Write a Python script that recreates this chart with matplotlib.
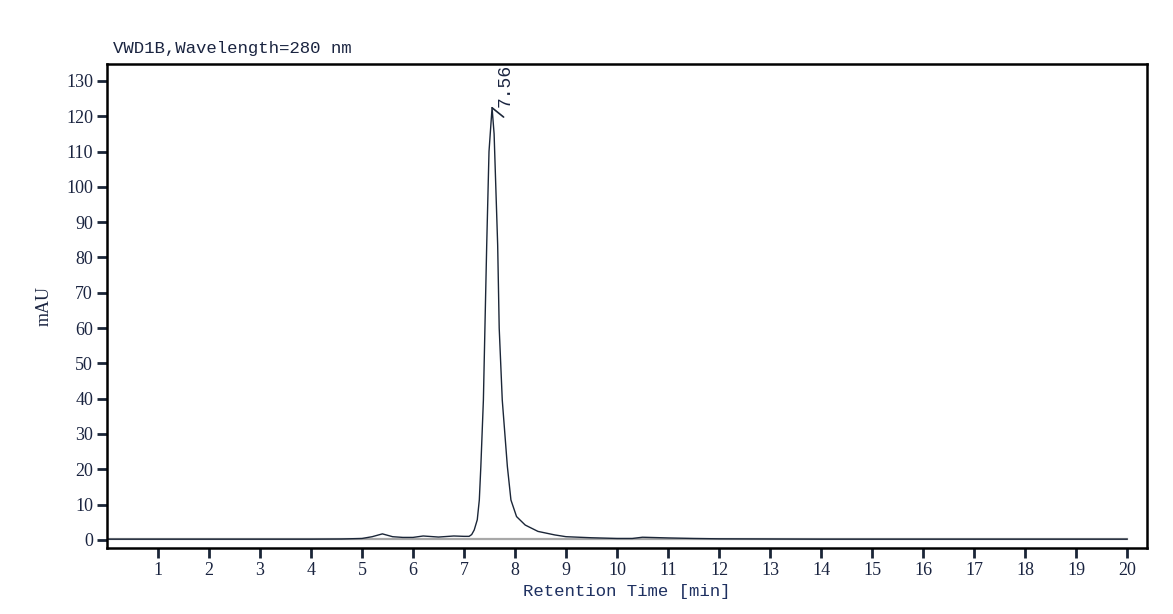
import matplotlib
matplotlib.use("Agg")
import matplotlib.pyplot as plt
import numpy as np

# chromatogram trace (min, mAU)
rt_min = [0.0, 1.0, 2.0, 3.0, 4.0, 4.6, 5.0, 5.2, 5.4, 5.6, 5.8, 6.0, 6.2, 6.5,
          6.8, 7.0, 7.1, 7.15, 7.2, 7.26, 7.30, 7.33, 7.38, 7.41, 7.445, 7.49,
          7.55, 7.59, 7.66, 7.69, 7.75, 7.85, 7.92, 8.03, 8.2, 8.45, 8.78, 9.0,
          9.5, 10.0, 10.3, 10.5, 11.0, 11.5, 12.0, 13.0, 14.0, 15.0, 16.0, 17.0,
          18.0, 19.0, 20.0]
signal_mau = [0.2, 0.2, 0.2, 0.2, 0.2, 0.25, 0.4, 0.9, 1.7, 0.9, 0.7, 0.7, 1.1, 0.8,
              1.1, 1.0, 1.0, 1.5, 2.8, 5.7, 11.3, 20.8, 39.6, 60.0, 83.5, 110.0,
              122.4, 115.0, 83.5, 60.0, 39.6, 20.8, 11.3, 6.6, 4.2, 2.4, 1.4, 0.9,
              0.6, 0.4, 0.4, 0.75, 0.55, 0.4, 0.3, 0.25, 0.2, 0.2, 0.2, 0.2,
              0.2, 0.2, 0.2]
baseline_rt = [0.0, 20.0]
baseline_mau = [0.2, 0.2]

peak_rt = 7.55
peak_mau = 122.4
peak_label = "7.56"

x_ticks = list(range(1, 21))
y_ticks = list(range(0, 131, 10))

TXT = "#1a2440"
LINE = "#1b2638"

fig = plt.figure(figsize=(11.73, 6.14), dpi=100)
ax = fig.add_axes([0.0912, 0.1075, 0.8866, 0.7883])

ax.plot(baseline_rt, baseline_mau, color="#a8a8a8", lw=1.6, zorder=1)
ax.plot(rt_min, signal_mau, color=LINE, lw=1.0, zorder=2)

# peak label with short leader line
ax.annotate("", xy=(peak_rt, peak_mau), xytext=(8.3, -6.7),
            textcoords="offset points",
            arrowprops=dict(arrowstyle="-", color=LINE, lw=1.2,
                            shrinkA=0, shrinkB=0))
ax.annotate(peak_label, xy=(peak_rt, peak_mau), xytext=(9.6, 0.5),
            textcoords="offset points", rotation=90, ha="center", va="bottom",
            fontsize=13, family="Liberation Mono", color=TXT)

ax.set_xlim(0, 20.39)
ax.set_ylim(-2.3, 134.8)
ax.set_xticks(x_ticks)
ax.set_yticks(y_ticks)
ax.tick_params(direction="out", length=7, width=2, color=LINE,
               labelsize=13, labelcolor=TXT, pad=3)
for lab in ax.get_xticklabels() + ax.get_yticklabels():
    lab.set_family("Liberation Serif")
for sp in ax.spines.values():
    sp.set_linewidth(1.8)
    sp.set_color("black")

ax.set_xlabel("Retention Time [min]", family="Liberation Mono", fontsize=12.5,
              color="#1e3060", labelpad=4)
ax.set_ylabel("mAU", family="Liberation Serif", fontsize=13, color=TXT,
              labelpad=10)
ax.set_title("VWD1B,Wavelength=280 nm", loc="left", family="Liberation Mono",
             fontsize=12.5, color=TXT, pad=8, x=0.006)

fig.savefig("out.png", dpi=100)
